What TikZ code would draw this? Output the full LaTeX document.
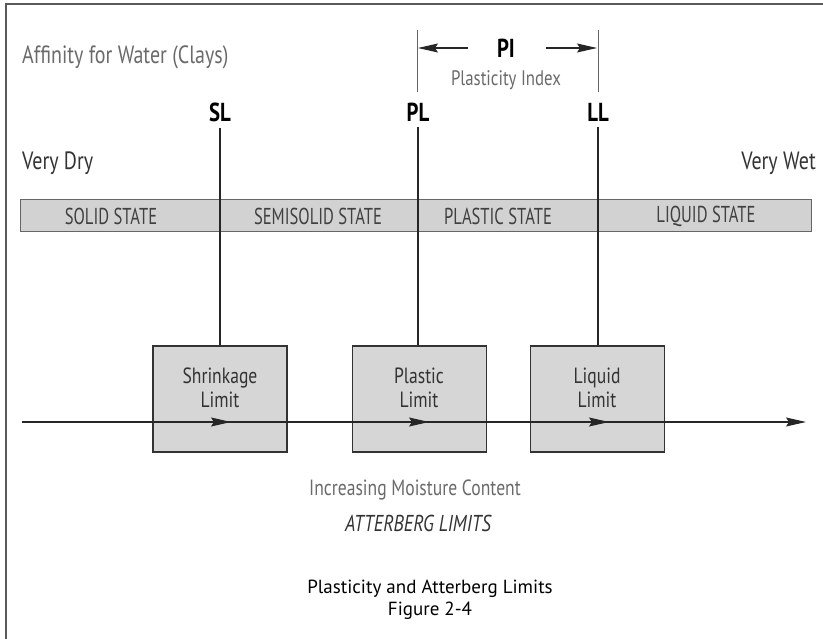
\documentclass[tikz,border=0pt]{standalone}
\usepackage{fontspec}
\setmainfont{PT Sans}[FakeStretch=0.8]
\newfontfamily\condfont{PT Sans}[FakeStretch=0.72]
\newfontfamily\capfont{PT Sans}
\usetikzlibrary{arrows.meta}
\definecolor{txtgray}{HTML}{6A6A6A}
\definecolor{dkgray}{HTML}{333333}
\definecolor{boxfill}{HTML}{D6D6D6}
\definecolor{barfill}{HTML}{D2D2D2}
\definecolor{framegray}{HTML}{5A5A5A}
\tikzset{
  lbl/.style={inner sep=0pt, font=\fontsize{25}{28}\selectfont},
  biglbl/.style={inner sep=0pt, font=\fontsize{26}{28}\selectfont\bfseries},
  statelbl/.style={inner sep=0pt, text=black!75, font=\condfont\fontsize{23}{25}\selectfont},
  limitbox/.style={draw=dkgray, fill=boxfill, line width=1.2pt, minimum width=134pt, minimum height=106pt, inner sep=0pt},
  boxtxt/.style={inner sep=0pt, align=center, text=dkgray, font=\fontsize{22}{24}\selectfont},
  thinln/.style={line width=1.1pt, draw=black!85},
  tip/.style={-{Stealth[length=20pt,width=9pt,inset=3pt]}},
}
\begin{document}
\begin{tikzpicture}[x=1pt,y=-1pt]
\useasboundingbox (0,0) rectangle (823,639);
% frame (top and left edges)
\coordinate (fTL) at (6,4);
\coordinate (fTR) at (823,4);
\coordinate (fBL) at (6,639);
\draw[framegray, line width=2pt] (fBL) -- (fTL) -- (fTR);

\node[lbl, anchor=west, text=txtgray] (aff) at (22,57) {Affinity for Water (Clays)};

% PI bracket
\coordinate (piLtop) at (417,30);
\coordinate (piLbot) at (417,92);
\coordinate (piRtop) at (598,30);
\coordinate (piRbot) at (598,92);
\draw[thinln, line width=0.8pt, draw=black!60] (piLtop) -- (piLbot);
\draw[thinln, line width=0.8pt, draw=black!60] (piRtop) -- (piRbot);
\node[biglbl] (PI) at (506,48) {PI};
\coordinate (piLa) at (468,48);
\coordinate (piLb) at (418,48);
\coordinate (piRa) at (546,48);
\coordinate (piRb) at (597,48);
\draw[thinln, tip] (piLa) -- (piLb);
\draw[thinln, tip] (piRa) -- (piRb);
\node[inner sep=0pt, text=txtgray, font=\fontsize{21}{22}\selectfont] (pidx) at (506,80) {Plasticity Index};

% limit labels
\node[biglbl] (SL) at (220,112) {SL};
\node[biglbl] (PL) at (418,112) {PL};
\node[biglbl] (LL) at (598,112) {LL};

\node[lbl, anchor=west, text=dkgray] (dry) at (22,163) {Very Dry};
\node[lbl, anchor=east, text=dkgray] (wet) at (816,163) {Very Wet};

% state bar
\node[draw=black!60, fill=barfill, line width=1pt, minimum width=791pt, minimum height=32pt, inner sep=0pt] (bar) at (415.5,216) {};
\node[statelbl] (s1) at (111,216) {SOLID STATE};
\node[statelbl] (s2) at (318,216) {SEMISOLID STATE};
\node[statelbl] (s3) at (498,216) {PLASTIC STATE};
\node[statelbl] (s4) at (706,216) {LIQUID STATE};

% boxes
\node[limitbox] (bSL) at (220,399) {};
\node[limitbox] (bPL) at (419.5,399) {};
\node[limitbox] (bLL) at (597.5,399) {};
\node[boxtxt] (tSL) at (220,388) {Shrinkage\\Limit};
\node[boxtxt] (tPL) at (419,388) {Plastic\\Limit};
\node[boxtxt] (tLL) at (597,388) {Liquid\\Limit};

% vertical lines
\draw[thinln] ([yshift=-6pt]SL.south) -- (SL.south |- bSL.north);
\draw[thinln] ([yshift=-6pt]PL.south) -- (PL.south |- bPL.north);
\draw[thinln] ([yshift=-6pt]LL.south) -- (LL.south |- bLL.north);

% axis
\coordinate (ax0) at (22,422);
\coordinate (ax1) at (806,422);
\draw[thinln, tip] (ax0) -- (ax1);
\coordinate (a1s) at (207,422);
\coordinate (a1e) at (231,422);
\coordinate (a2s) at (405,422);
\coordinate (a2e) at (429,422);
\coordinate (a3s) at (585,422);
\coordinate (a3e) at (609,422);
\draw[thinln, tip] (a1s) -- (a1e);
\draw[thinln, tip] (a2s) -- (a2e);
\draw[thinln, tip] (a3s) -- (a3e);

\node[inner sep=0pt, text=txtgray, font=\fontsize{22}{24}\selectfont] (moist) at (415,490) {Increasing Moisture Content};
\node[inner sep=0pt, text=dkgray, font=\fontsize{23}{24}\selectfont\itshape] (att) at (418,523) {ATTERBERG LIMITS};

\node[inner sep=0pt, align=center, font=\capfont\fontsize{19}{22}\selectfont] (cap) at (430,600) {Plasticity and Atterberg Limits\\Figure 2-4};
\end{tikzpicture}
\end{document}
